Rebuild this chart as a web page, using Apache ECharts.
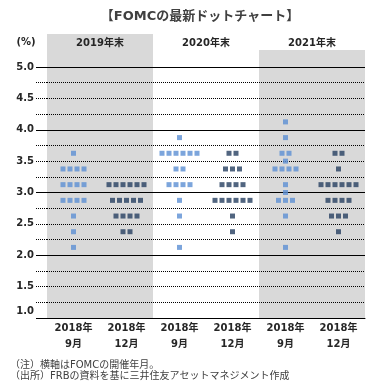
<!DOCTYPE html>
<html><head><meta charset="utf-8">
<script src="https://cdn.jsdelivr.net/npm/echarts@6/dist/echarts.min.js"></script>
<style>html,body{margin:0;padding:0;background:#fff}#c{width:381px;height:390px}</style>
</head><body><div id="c"></div>
<script>
// ---- data ----
const categories = ['2018年\n9月', '2018年\n12月', '2018年\n9月', '2018年\n12月', '2018年\n9月', '2018年\n12月'];
const groupLabels = ['2019年末', '2020年末', '2021年末'];
const yMin = 1, yMax = 5;
// [policy rate (%), number of participants]
const dots2019Sep = [[3.625, 1], [3.375, 4], [3.125, 4], [2.875, 4], [2.625, 1], [2.375, 1], [2.125, 1]];
const dots2019Dec = [[3.125, 6], [2.875, 5], [2.625, 4], [2.375, 2]];
const dots2020Sep = [[3.875, 1], [3.625, 6], [3.375, 2], [3.125, 4], [2.875, 1], [2.625, 1], [2.125, 1]];
const dots2020Dec = [[3.625, 2], [3.375, 3], [3.125, 4], [2.875, 6], [2.625, 1], [2.375, 1]];
const dots2021Sep = [[4.125, 1], [3.875, 1], [3.625, 2], [3.5, 1], [3.375, 4], [3.125, 1], [3.0, 1], [2.875, 3], [2.625, 1], [2.125, 1]];
const dots2021Dec = [[3.625, 2], [3.375, 1], [3.125, 6], [2.875, 4], [2.625, 3], [2.375, 1]];
const titleText = '【FOMCの最新ドットチャート】';
const note1 = '（注）横軸はFOMCの開催年月。';
const note2 = '（出所）FRBの資料を基に三井住友アセットマネジメント作成';

// ---- styling ----
const FONT = "'DejaVu Sans', 'Noto Sans CJK JP', sans-serif";
const TXT = '#262626';
const SEP_COLOR = '#5B8FD3';
const DEC_COLOR = '#253F60';
const GRAY = '#D9D9D9';
const PITCH = 7;

function buildDots(catIdx, list) {
  const out = [];
  list.forEach(([rate, n]) => {
    for (let i = 0; i < n; i++) {
      out.push({ value: [catIdx, rate], symbolOffset: [(i - (n - 1) / 2) * PITCH, 0] });
    }
  });
  return out;
}
const sepData = [].concat(buildDots(0, dots2019Sep), buildDots(2, dots2020Sep), buildDots(4, dots2021Sep));
const decData = [].concat(buildDots(1, dots2019Dec), buildDots(3, dots2020Dec), buildDots(5, dots2021Dec));

const chart = echarts.init(document.getElementById('c'), null, { renderer: 'canvas' });
const option = {
  animation: false,
  backgroundColor: '#fff',
  grid: { left: 47, right: 16, top: 67, bottom: 72, containLabel: false, outerBoundsMode: 'none' },
  xAxis: [
    {
      type: 'category', data: categories, position: 'bottom', boundaryGap: true,
      axisLine: { show: true, lineStyle: { color: '#000', width: 1 } },
      axisTick: { show: false },
      splitLine: { show: false },
      axisLabel: { interval: 0, margin: 2, lineHeight: 16, fontSize: 10, fontWeight: 'bold', color: TXT, fontFamily: FONT }
    },
    {
      type: 'category', data: groupLabels, position: 'top', boundaryGap: true,
      axisLine: { show: false }, axisTick: { show: false }, splitLine: { show: false },
      axisLabel: { interval: 0, margin: 19, fontSize: 10, fontWeight: 'bold', color: TXT, fontFamily: FONT }
    }
  ],
  yAxis: [
    {
      type: 'value', min: yMin, max: yMax, interval: 0.25, position: 'left',
      axisLine: { show: false },
      axisTick: { show: true, length: 11, lineStyle: { color: '#000', width: 1, type: [1, 1] } },
      splitLine: { show: true, lineStyle: { color: '#000', width: 1, type: [1, 1] } },
      axisLabel: {
        margin: 13, fontSize: 10, fontWeight: 'bold', color: TXT, fontFamily: FONT,
        formatter: function (v) {
          if (Math.abs(v - yMin) < 1e-9) return '{low|' + v.toFixed(1) + '}';
          if (Math.abs(v * 2 - Math.round(v * 2)) < 1e-9) return v.toFixed(1);
          return '';
        },
        rich: { low: { fontSize: 10, fontWeight: 'bold', color: TXT, fontFamily: FONT, padding: [0, 0, 13, 0] } }
      }
    },
    {
      type: 'value', min: yMin, max: yMax, interval: 1, position: 'left',
      axisLine: { show: false },
      axisTick: { show: true, length: 11, lineStyle: { color: '#000', width: 1 } },
      splitLine: { show: true, lineStyle: { color: '#000', width: 1 } },
      axisLabel: { show: false }
    }
  ],
  series: [
    { name: '9月', type: 'scatter', xAxisIndex: 0, yAxisIndex: 0, symbol: 'rect', symbolSize: 5,
      itemStyle: { color: SEP_COLOR }, data: sepData, z: 5 },
    { name: '12月', type: 'scatter', xAxisIndex: 0, yAxisIndex: 0, symbol: 'rect', symbolSize: 5,
      itemStyle: { color: DEC_COLOR }, data: decData, z: 5 }
  ]
};
chart.setOption(option);

// background bands & texts
const c = (i) => chart.convertToPixel({ xAxisIndex: 0 }, i);
const half = (c(1) - c(0)) / 2;
const yBottom = chart.convertToPixel({ yAxisIndex: 0 }, yMin);
const band = (i0, i1, top) => ({
  type: 'rect', z: -10, silent: true,
  shape: { x: c(i0) - half, y: top, width: c(i1) - c(i0) + 2 * half, height: yBottom - top },
  style: { fill: GRAY }
});
chart.setOption({
  graphic: [
    band(0, 1, 34),
    band(4, 5, 50),
    { type: 'text', x: 200, y: 17, style: { text: titleText, fill: '#404040', font: 'bold 13px ' + FONT, textAlign: 'center', textVerticalAlign: 'middle' } },
    { type: 'text', x: 26, y: 42, style: { text: '(%)', fill: TXT, font: 'bold 10px ' + FONT, textAlign: 'center', textVerticalAlign: 'middle' } },
    { type: 'text', x: 10, y: 365, style: { text: note1, fill: '#404040', font: '10px ' + FONT, textAlign: 'left', textVerticalAlign: 'middle' } },
    { type: 'text', x: 10, y: 376, style: { text: note2, fill: '#404040', font: '10px ' + FONT, textAlign: 'left', textVerticalAlign: 'middle' } }
  ]
});
</script>
</body></html>
